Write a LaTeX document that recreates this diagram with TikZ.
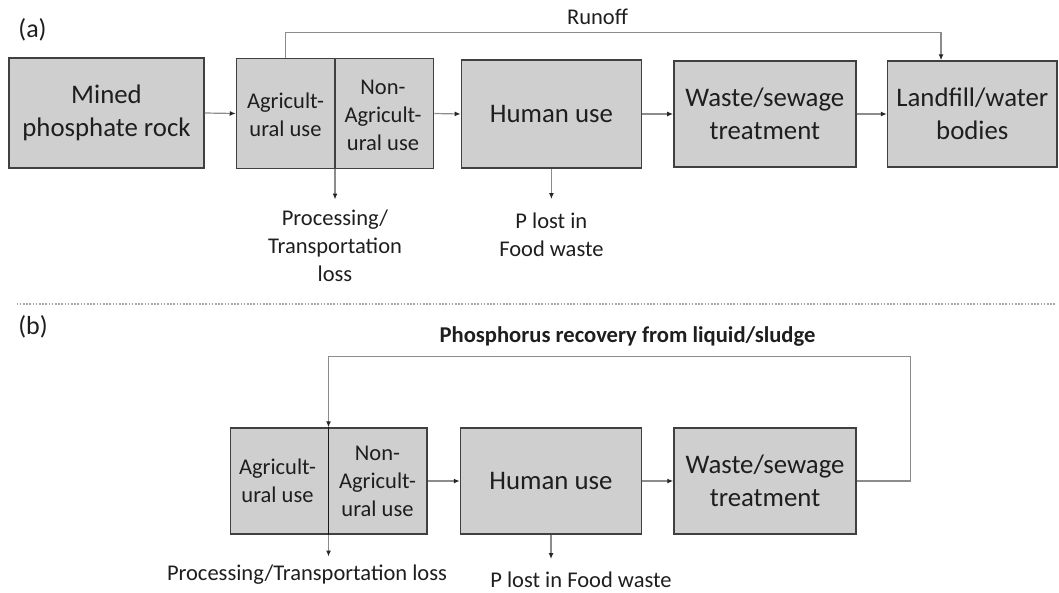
\documentclass[tikz,border=0pt]{standalone}
\usepackage{fontspec}
\setmainfont{Carlito}
\usetikzlibrary{arrows.meta}
\definecolor{boxfill}{HTML}{D0CFCF}
\definecolor{boxline}{HTML}{404040}
\definecolor{flowline}{HTML}{8C8C8C}
\definecolor{ink}{HTML}{1E1E1E}
\begin{document}
\begin{tikzpicture}[x=1pt,y=-1pt,
  box/.style={draw=boxline,fill=boxfill,line width=1.5pt,inner sep=0pt,
    align=center,text=ink},
  bigtext/.style={font=\fontsize{26.8}{33}\selectfont},
  smalltext/.style={font=\fontsize{22.5}{28}\selectfont,text=ink,align=center,inner sep=0pt},
  flow/.style={draw=flowline,line width=1.2pt,
    -{Latex[length=6pt,width=5pt,color=black!85]}},
  divider/.style={draw=black!90,line width=1.8pt}]
\useasboundingbox (0,0) rectangle (1059,592);

% ---------- panel (a): linear flow ----------
\node[smalltext,font=\fontsize{26}{30}\selectfont] (labA) at (32.5,30) {(a)};
\node[box,bigtext,minimum width=195pt,minimum height=110pt] (aMined) at (106.5,113) {Mined\\phosphate rock};
\node[box,minimum width=197pt,minimum height=110pt] (aAgri) at (335,113.5) {};
\node[smalltext] (aAgL) at (285.5,115) {Agricult-\\ural use};
\node[smalltext] (aAgR) at (383,115) {Non-\\Agricult-\\ural use};
\node[box,bigtext,minimum width=180pt,minimum height=108pt] (aHuman) at (551.4,114) {Human use};
\node[box,bigtext,minimum width=182pt,minimum height=106pt] (aWaste) at (764.8,114) {Waste/sewage\\treatment};
\node[box,bigtext,minimum width=169.5pt,minimum height=106pt] (aLand) at (972.3,114) {Landfill/water\\bodies};
\draw[line width=1.5pt,draw=boxline] (aAgri.north) -- (aAgri.south);

\draw[flow] (aMined.east) -- (aAgri.west);
\draw[flow] (aAgri.east) -- (aHuman.west);
\draw[flow] (aHuman.east) -- (aWaste.west);
\draw[flow] (aWaste.east) -- (aLand.west);

\coordinate (aRunIn) at (941,32.5);
\draw[flow] (285.7,0 |- aAgri.north) -- (285.7,0 |- aRunIn) -- (aRunIn) -- (aRunIn |- aLand.north);
\node[smalltext] (aRunLab) at (597.5,17) {Runoff};

\node[smalltext] (aLoss) at (335,246) {Processing/\\Transportation\\loss};
\draw[flow] (aAgri.south) -- (aAgri.south |- 0,199.5);
\node[smalltext] (aFood) at (551.4,235) {P lost in\\Food waste};
\draw[flow] (aHuman.south) -- (aHuman.south |- 0,199);

% separator
\draw[draw=black!35,line width=1.6pt,dash pattern=on 1.6pt off 1.6pt] (16.5,304) -- (1055,304);

% ---------- panel (b): closed loop ----------
\node[smalltext,font=\fontsize{26}{30}\selectfont] (labB) at (33,327) {(b)};
\node[box,minimum width=196.5pt,minimum height=106pt] (bAgri) at (328.5,481) {};
\node[smalltext] (bAgL) at (277.5,481) {Agricult-\\ural use};
\node[smalltext] (bAgR) at (377.5,481) {Non-\\Agricult-\\ural use};
\node[box,bigtext,minimum width=181pt,minimum height=106pt] (bHuman) at (551,481) {Human use};
\node[box,bigtext,minimum width=182pt,minimum height=106pt] (bWaste) at (765,481) {Waste/sewage\\treatment};
\draw[divider] (bAgri.north) -- (bAgri.south);

\draw[flow] (bAgri.east) -- (bHuman.west);
\draw[flow] (bHuman.east) -- (bWaste.west);

\coordinate (bLoopR) at (910.7,356.7);
\draw[flow] (bWaste.east) -- (bWaste.east -| bLoopR) -- (bLoopR) -- (bAgri.north |- bLoopR) -- (bAgri.north);
\node[smalltext,font=\fontsize{22.6}{27}\selectfont\bfseries] (bRecLab) at (627.5,336.7) {Phosphorus recovery from liquid/sludge};

\draw[flow] (bAgri.south) -- (bAgri.south |- 0,556.5);
\node[smalltext] (bLoss) at (307,575) {Processing/Transportation loss};
\draw[flow] (bHuman.south) -- (bHuman.south |- 0,559);
\node[smalltext] (bFood) at (581,580) {P lost in Food waste};
\end{tikzpicture}
\end{document}
